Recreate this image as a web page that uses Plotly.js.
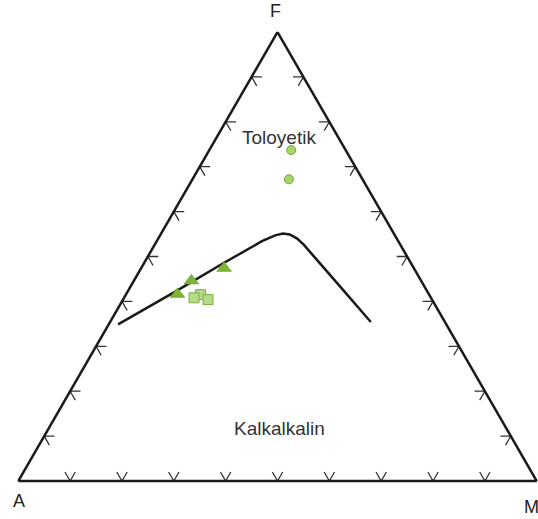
<!DOCTYPE html>
<html>
<head>
<meta charset="utf-8">
<script src="https://cdn.plot.ly/plotly-3.0.1.min.js"></script>
<style>
  html, body { margin: 0; padding: 0; background: #ffffff; }
  #chart { width: 538px; height: 519px; }
</style>
</head>
<body>
<div id="chart"></div>
<script>
// AFM diagram: A = Na2O + K2O, F = FeO(total), M = MgO, in percent.

// Tholeiitic / calc-alkaline dividing line
const boundaryA = [63.3, 48.4, 36.0, 26.3, 23.1, 21.4, 20.2, 19.2, 18.6, 18.1, 16.2, 14.3];
const boundaryF = [34.9, 42.3, 48.6, 53.4, 54.7, 55.1, 54.9, 54.0, 52.6, 50.6, 43.0, 35.4];
const boundaryM = [ 1.8,  9.3, 15.4, 20.3, 22.2, 23.5, 24.9, 26.8, 28.8, 31.3, 40.8, 50.3];

// Samples
const circleA = [10.5, 14.2];
const circleF = [73.7, 67.2];
const circleM = [15.8, 18.6];

const triangleA = [48.5, 44.3, 36.6];
const triangleF = [41.6, 44.6, 47.4];
const triangleM = [ 9.9, 11.1, 16.0];

const squareA = [44.1, 45.7, 43.2];
const squareF = [41.5, 40.8, 40.4];
const squareM = [14.4, 13.5, 16.4];

// Edge tick positions (percent) and chevron arm length
const tickValues = [10, 20, 30, 40, 50, 60, 70, 80, 90];
const tickLen = 2;

// Chevron ticks on the three edges, one polyline with gaps
const tA = [], tF = [], tM = [];
function pushPt(a, f, m) { tA.push(a); tF.push(f); tM.push(m); }
function gap() { tA.push(null); tF.push(null); tM.push(null); }
tickValues.forEach(v => {
  // left edge A-F (M = 0)
  pushPt(100 - v - tickLen, v, tickLen);
  pushPt(100 - v, v, 0);
  pushPt(100 - v, v - tickLen, tickLen);
  gap();
  // bottom edge A-M (F = 0)
  pushPt(100 - v, tickLen, v - tickLen);
  pushPt(100 - v, 0, v);
  pushPt(100 - v - tickLen, tickLen, v);
  gap();
  // right edge F-M (A = 0)
  pushPt(tickLen, v, 100 - v - tickLen);
  pushPt(0, v, 100 - v);
  pushPt(tickLen, v - tickLen, 100 - v);
  gap();
});

const traces = [
  {
    type: 'scatterternary', mode: 'lines',
    a: tF, b: tA, c: tM,
    line: { color: '#333333', width: 1.3 },
    connectgaps: false, hoverinfo: 'skip', cliponaxis: false
  },
  {
    type: 'scatterternary', mode: 'lines',
    a: boundaryF, b: boundaryA, c: boundaryM,
    line: { color: '#1a1a1a', width: 2.5 },
    hoverinfo: 'skip'
  },
  {
    type: 'scatterternary', mode: 'markers',
    a: circleF, b: circleA, c: circleM,
    marker: { symbol: 'circle', size: 9, color: '#a8d46c', line: { color: '#72a23a', width: 1 } }
  },
  {
    type: 'scatterternary', mode: 'markers',
    a: squareF, b: squareA, c: squareM,
    marker: { symbol: 'square', size: 10, color: '#b5da8a', line: { color: '#7fae45', width: 1 } }
  },
  {
    type: 'scatterternary', mode: 'markers',
    a: triangleF, b: triangleA, c: triangleM,
    marker: { symbol: 'triangle-up', size: 13, color: '#7cb532', line: { color: '#6a9e28', width: 0.5 } }
  }
];

const axisBase = {
  min: 0,
  showline: true, linecolor: '#1a1a1a', linewidth: 2.5,
  showgrid: false, ticks: '', showticklabels: false,
  title: { text: '' }
};

const labelFont = { family: 'Liberation Sans, Arial, sans-serif', size: 18, color: '#222222' };
const fieldFont = { family: 'Liberation Sans, Arial, sans-serif', size: 19, color: '#333333' };

function note(text, x, y, font) {
  return { text: text, x: x, y: y, xref: 'paper', yref: 'paper',
           xanchor: 'center', yanchor: 'middle', showarrow: false, font: font };
}

const layout = {
  width: 538, height: 519,
  margin: { l: 18, r: 1, t: 32, b: 38 },
  paper_bgcolor: '#ffffff',
  showlegend: false,
  ternary: {
    sum: 100,
    bgcolor: '#ffffff',
    domain: { x: [0, 1], y: [0, 1] },
    aaxis: axisBase,
    baxis: axisBase,
    caxis: axisBase
  },
  annotations: [
    note('F', 0.497, 1.047, labelFont),
    note('A', 0.001, -0.045, labelFont),
    note('M', 0.989, -0.058, labelFont),
    note('Toloyetik', 0.503, 0.766, fieldFont),
    note('Kalkalkalin', 0.504, 0.118, fieldFont)
  ]
};

Plotly.newPlot('chart', traces, layout, { displayModeBar: false, staticPlot: true });
</script>
</body>
</html>
